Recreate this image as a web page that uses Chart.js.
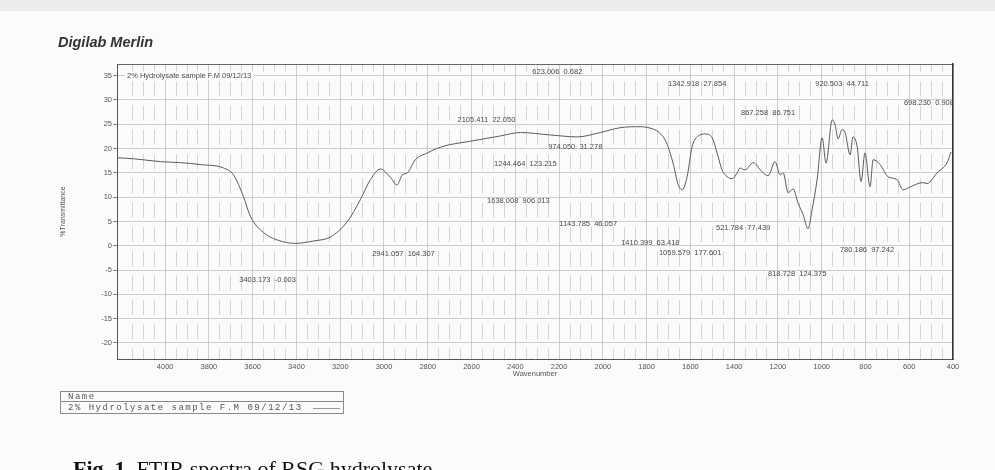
<!DOCTYPE html>
<html>
<head>
<meta charset="utf-8">
<script src="https://cdn.jsdelivr.net/npm/chart.js@4.4.1/dist/chart.umd.min.js"></script>
<style>
body { margin: 0; background: #fbfbfb; }
#wrap { position: relative; width: 995px; height: 470px; overflow: hidden; background: #fbfbfb; }
#spectrum { position: absolute; left: 0; top: 0; }
.topband { position: absolute; left: 0; top: 0; width: 995px; height: 11px; background: #ececec; }
.brand { position: absolute; left: 58px; top: 34px; font: italic bold 14.5px "Liberation Sans", Arial, sans-serif; color: #333; }
.namebox { position: absolute; left: 60px; top: 391px; width: 282px; height: 21px; border: 1px solid #8a8a8a; font: 9px "Liberation Mono", monospace; letter-spacing: 1.5px; color: #555; }
.namebox .row1 { position: absolute; left: 0; top: 0; height: 10px; line-height: 10px; width: 282px; padding-left: 7px; box-sizing: border-box; border-bottom: 1px solid #8a8a8a; }
.namebox .row2 { position: absolute; left: 7px; top: 11px; line-height: 10px; }
.namebox .sample { position: absolute; left: 252px; top: 16px; width: 27px; border-top: 1px solid #999; }
.caption { position: absolute; left: 73px; top: 458px; font: 22px "Liberation Serif", "Times New Roman", serif; line-height: 22px; color: #111; white-space: nowrap; }
</style>
</head>
<body>
<div id="wrap">
  <div class="topband"></div>
  <canvas id="spectrum" width="995" height="470"></canvas>
  <div class="brand">Digilab Merlin</div>
  <div class="namebox">
    <div class="row1">Name</div>
    <div class="row2">2% Hydrolysate sample F.M 09/12/13</div>
    <div class="sample"></div>
  </div>
  <div class="caption"><b>Fig. 1.</b> FTIR spectra of RSG hydrolysate</div>
</div>
<script>
// spectrum
const wavenumbers = [4217, 4144, 4021, 3929, 3838, 3733, 3688, 3642, 3610, 3550, 3459, 3403, 3320, 3245,
    3167, 3108, 3062, 3016, 2971, 2941, 2916, 2893, 2857, 2802, 2760, 2700, 2619, 2468, 2377, 2240,
    2117, 2012, 1920, 1829, 1770, 1740, 1710, 1678, 1656, 1637, 1615, 1592, 1564, 1532, 1500, 1478,
    1455, 1432, 1409, 1386, 1373, 1350, 1313, 1272, 1245, 1213, 1190, 1176, 1153, 1131, 1108, 1085,
    1062, 1044, 1021, 998, 980, 952, 939, 925, 907, 893, 870, 857, 838, 820, 802, 779, 765, 733,
    697, 656, 628, 596, 537, 519, 473, 427, 409];
const transmittance = [18.1, 17.9, 17.3, 17.1, 16.7, 16.0, 14.6, 10.1, 6.0, 2.7, 0.8, 0.5, 1.0, 1.8,
    5.0, 9.5, 13.6, 15.8, 14.1, 12.5, 14.6, 15.0, 17.7, 19.1, 20.0, 20.8, 21.4, 22.6, 23.3, 22.8,
    22.4, 23.3, 24.3, 24.5, 24.0, 23.2, 21.3, 16.8, 12.6, 11.5, 14.2, 20.4, 22.6, 23.0, 22.2, 19.1,
    15.6, 14.2, 13.8, 15.0, 16.0, 15.6, 17.1, 15.2, 14.4, 17.3, 14.6, 15.0, 10.9, 11.7, 8.8, 6.4,
    3.5, 7.4, 13.6, 22.2, 17.0, 25.9, 24.9, 22.0, 23.9, 23.3, 18.7, 22.4, 20.4, 13.2, 19.1, 12.1, 17.7, 16.7,
    14.2, 13.6, 11.5, 12.1, 13.0, 12.8, 15.0, 17.1, 19.3];

const xTicks = [4000, 3800, 3600, 3400, 3200, 3000, 2800, 2600, 2400, 2200, 2000, 1800, 1600, 1400, 1200, 1000, 800, 600, 400];
const yTicks = [35, 30, 25, 20, 15, 10, 5, 0, -5, -10, -15, -20];

// peak labels as printed on the plot (text, where it sits)
const peakText = ['623.006  0.682', '1342.918  27.854', '920.503  44.711', '698.230  0.908', '867.258  86.751',
    '2105.411  22.050', '974.050  31.278', '1244.464  123.215', '1638.008  906.013', '1143.785  46.057',
    '1410.399  63.418', '1059.579  177.601', '521.784  77.439', '2941.057  164.307', '780.186  97.242',
    '818.728  124.375', '3403.173  -0.003'];
const peakTextX = [2208, 1569, 907, 510, 1245, 2532, 2126, 2354, 2386, 2067, 1783, 1601, 1359, 2911, 793, 1112, 3532];
const peakTextY = [35.8, 33.3, 33.3, 29.4, 27.4, 25.9, 20.4, 16.9, 9.3, 4.5, 0.6, -1.4, 3.7, -1.6, -0.8, -5.8, -7.0];

const sampleName = '2% Hydrolysate sample F.M 09/12/13';

let minorTicks = [];
for (let w = 400; w <= 4200; w += 50) {
    if (w % 200 !== 0) minorTicks.push(w);
}

const smallFont = {family: "'Liberation Sans', Arial, sans-serif", size: 7.5};

const peakLabels = {
    id: 'peakLabels',
    afterDatasetsDraw(chart) {
        const {ctx, chartArea, scales} = chart;
        ctx.save();
        ctx.beginPath();
        ctx.rect(chartArea.left, chartArea.top, chartArea.right - chartArea.left, chartArea.bottom - chartArea.top);
        ctx.clip();
        ctx.font = "7.5px 'Liberation Sans', Arial, sans-serif";
        ctx.fillStyle = '#4a4a4a';
        ctx.textAlign = 'center';
        ctx.textBaseline = 'middle';
        peakText.forEach((t, i) => {
            ctx.fillText(t, scales.x.getPixelForValue(peakTextX[i]), scales.y.getPixelForValue(peakTextY[i]));
        });
        // sample name in the top left corner of the plot
        ctx.textAlign = 'left';
        const w = ctx.measureText(sampleName).width;
        const y35 = scales.y.getPixelForValue(35);
        ctx.fillStyle = '#fbfbfb';
        ctx.fillRect(chartArea.left + 8, y35 - 4, w + 4, 8);
        ctx.fillStyle = '#4a4a4a';
        ctx.fillText(sampleName, chartArea.left + 10, y35);
        ctx.restore();
    }
};

let ctx = document.getElementById('spectrum');
let spectrumChart = new Chart(ctx, {
    type: 'line',
    data: {
        datasets: [{
            label: sampleName,
            data: wavenumbers.map((w, i) => ({x: w, y: transmittance[i]})),
            borderColor: '#5a5a5a',
            borderWidth: 1,
            pointRadius: 0,
            cubicInterpolationMode: 'monotone',
            fill: false,
        }]
    },
    options: {
        responsive: false,
        animation: false,
        layout: {padding: {left: 0, right: 42, top: 64, bottom: 0}},
        plugins: {legend: {display: false}, tooltip: {enabled: false}},
        scales: {
            x: {
                type: 'linear',
                reverse: true,
                min: 400,
                max: 4220,
                afterBuildTicks: s => { s.ticks = xTicks.map(v => ({value: v})); },
                afterFit: s => { s.height = 111; },
                grid: {color: '#c2c2c2', lineWidth: 0.8, drawTicks: false},
                border: {color: '#555', width: 1},
                ticks: {padding: 3, maxRotation: 0, font: smallFont, color: '#555', callback: v => v},
                title: {display: true, text: 'Wavenumber', font: smallFont, color: '#555', padding: {top: 0, bottom: 92}},
            },
            x2: {
                type: 'linear',
                position: 'top',
                reverse: true,
                min: 400,
                max: 4220,
                afterBuildTicks: s => { s.ticks = minorTicks.map(v => ({value: v})); },
                afterFit: s => { s.height = 0; },
                grid: {color: '#cacaca', lineWidth: 0.8, drawTicks: false},
                border: {color: '#666', width: 1, dash: [15, 9.3], dashOffset: 8},
                ticks: {display: false},
            },
            y: {
                min: -23.3,
                max: 37.4,
                afterBuildTicks: s => { s.ticks = yTicks.map(v => ({value: v})); },
                afterFit: s => { s.width = 117; },
                grid: {color: '#c2c2c2', lineWidth: 0.8, tickLength: 4, tickColor: '#666'},
                border: {color: '#555', width: 1},
                ticks: {padding: 1, font: smallFont, color: '#555'},
                title: {display: true, text: '%Transmittance', font: {family: smallFont.family, size: 7}, color: '#555', padding: {top: 59, bottom: 0}},
            },
            y2: {
                position: 'right',
                min: -23.3,
                max: 37.4,
                afterFit: s => { s.width = 0; },
                grid: {display: false},
                border: {color: '#333', width: 1.5},
                ticks: {display: false},
            },
        }
    },
    plugins: [peakLabels],
});
</script>
</body>
</html>
